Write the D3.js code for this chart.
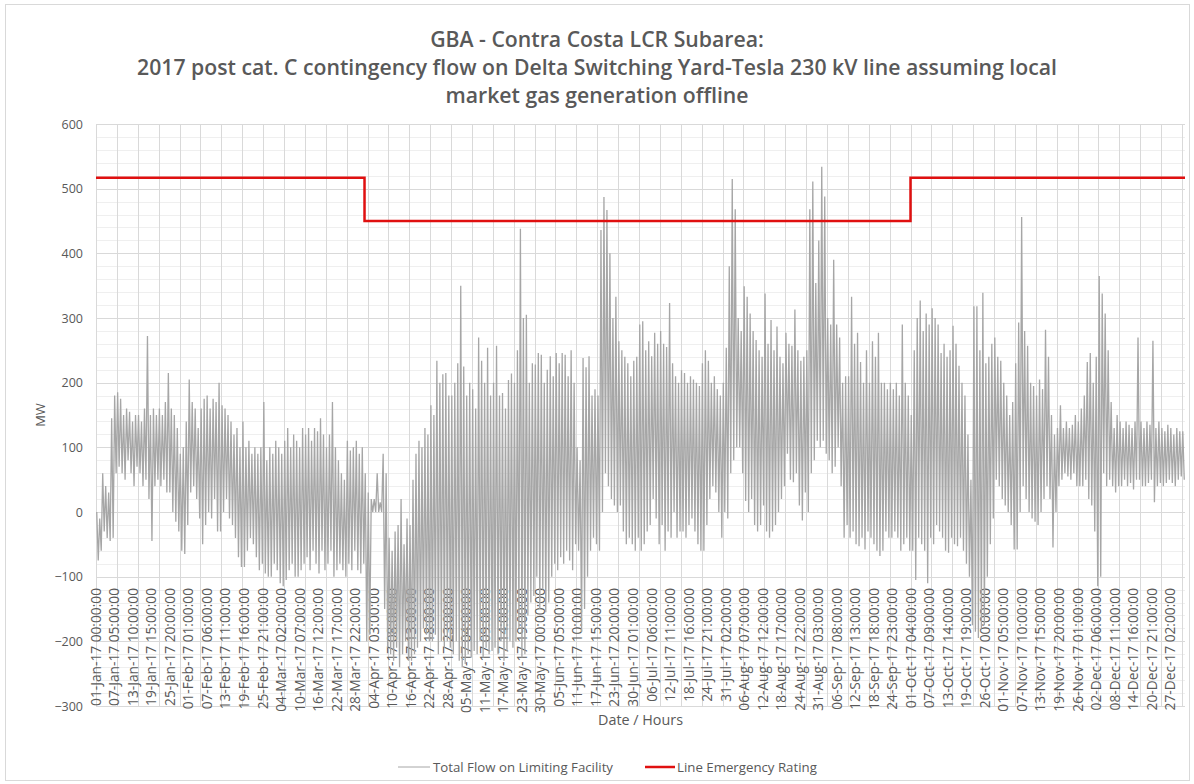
<!DOCTYPE html>
<html><head><meta charset="utf-8">
<script src="https://cdn.jsdelivr.net/npm/d3@7"></script>
<style>
html,body{margin:0;padding:0;background:#fff;}
text{font-family:"Open Sans","Liberation Sans",sans-serif;fill:#595959;}
</style></head>
<body><svg id="chart" width="1194" height="784"></svg>
<script>
// ---- DATA ----
const titleLines = [
  "GBA - Contra Costa LCR Subarea:",
  "2017 post cat. C contingency flow on Delta Switching Yard-Tesla 230 kV line assuming local",
  "market gas generation offline"
];
const seriesNames = ["Total Flow on Limiting Facility", "Line Emergency Rating"];
// daily high / low of hourly flow (MW), one row per week
const dailyHigh = [
  0,-10,60,40,30,145,180,
  185,175,150,160,155,140,150,
  150,140,160,272,150,160,150,
  160,150,170,215,160,150,130,
  90,100,140,205,170,160,130,
  160,175,180,160,175,170,200,
  165,160,150,140,120,130,100,
  140,100,110,90,100,90,100,
  170,80,100,90,110,100,90,
  110,130,100,120,110,100,130,
  120,130,110,130,125,145,120,
  100,120,170,100,80,60,50,
  110,95,100,110,90,100,60,
  30,20,20,60,15,90,60,
  -40,-60,-30,-20,20,-50,-10,
  -20,50,90,110,100,130,120,
  165,150,234,200,213,215,180,
  180,200,230,350,225,180,200,
  190,160,270,234,200,254,180,
  200,257,180,184,160,204,214,
  200,250,438,300,305,200,230,
  228,246,243,200,220,241,210,
  246,230,246,243,210,250,200,
  100,80,238,224,241,180,190,
  180,436,487,467,400,300,333,
  264,250,240,230,210,234,240,
  290,295,250,264,241,277,260,
  280,260,255,323,230,210,200,
  219,215,200,210,205,200,195,
  230,250,234,200,210,190,180,
  200,254,380,515,468,300,280,
  349,333,307,280,266,250,240,
  338,260,297,250,287,240,230,
  277,260,257,313,250,234,240,
  250,468,511,354,420,534,488,
  300,290,390,290,270,200,210,
  210,333,260,277,232,200,250,
  200,264,240,277,200,200,190,
  200,190,200,180,290,200,180,
  150,250,300,327,280,307,290,
  315,300,290,246,260,240,250,
  288,260,226,200,180,120,50,
  318,318,250,339,230,240,260,
  270,240,234,200,180,150,170,
  230,293,456,280,257,200,195,
  180,205,190,282,240,150,120,
  130,165,130,140,130,135,150,
  140,160,180,232,246,200,240,
  365,338,307,250,170,130,150,
  140,130,140,135,130,140,270,
  140,130,140,135,265,130,140,
  130,125,135,130,120,130,125,
  125
];
const dailyLow = [
  -75,-60,-30,-40,-45,-40,60,
  70,60,50,80,60,40,70,
  60,40,50,20,-45,40,50,
  40,50,30,30,0,-15,-30,
  -60,-65,-20,30,40,20,-10,
  -50,-20,0,-10,20,-30,-30,
  0,20,-10,-20,-40,-70,-85,
  -85,-60,-40,-50,-70,-90,-80,
  -95,-100,-100,-80,-90,-110,-115,
  -105,-90,-80,-100,-100,-90,-80,
  -70,-90,-60,-80,-95,-60,-90,
  -80,-60,-100,-90,-80,-90,-100,
  -80,-90,-60,-90,-95,-80,-200,
  -190,0,0,0,0,-150,-210,
  -220,-230,-210,-240,-220,-200,-230,
  -230,-220,-210,-200,-180,-190,-200,
  -200,-190,-220,-200,-210,-200,-210,
  -220,-200,-230,-240,-235,-220,-225,
  -215,-220,-200,-225,-210,-220,-215,
  -210,-220,-200,-230,-215,-200,-210,
  -200,-180,-225,-220,-160,-140,-130,
  -100,-150,-120,-155,-140,-100,-80,
  -90,-70,-80,-60,-75,-90,-50,
  -60,-185,-150,-100,-60,-40,-50,
  -60,0,60,40,20,10,0,
  10,-30,-50,-40,-50,-60,-40,
  -60,-50,-30,-20,20,-10,-50,
  -20,-60,-30,-40,0,-40,-30,
  -30,-40,-20,-10,-30,-50,-60,
  -60,-20,20,40,30,0,-40,
  0,-10,60,80,100,100,60,
  17,0,20,-20,-30,-20,10,
  -30,-40,-30,-20,0,20,40,
  90,50,46,60,10,-13,30,
  0,60,80,110,100,110,90,
  80,60,70,100,40,-40,-20,
  -40,-30,-50,-53,-40,-58,-30,
  -40,-50,-60,-68,-60,-30,-40,
  -40,-30,-40,-60,-50,-40,-60,
  -60,-105,-40,-50,-60,-110,-40,
  -50,-20,-30,-40,-60,-63,-40,
  -50,-53,-40,-60,-80,-100,-175,
  -185,-195,-180,-175,-100,-50,-10,
  50,40,20,10,0,-20,-58,
  -58,0,40,20,0,-10,-15,
  -20,0,20,40,20,-55,0,
  40,50,60,55,50,60,40,
  40,40,50,20,10,-30,-115,
  -100,60,40,50,40,30,40,
  40,50,40,45,35,50,50,
  40,40,45,50,15,40,45,
  40,45,50,45,40,50,55,
  50
];
// emergency rating steps: hour of year where each rating starts
const ratingStartHour = [0, 2160, 6552];
const ratingValue = [517, 450, 517];
const totalHours = 8760;
// y-axis ticks
const yTicks = [600, 500, 400, 300, 200, 100, 0, -100, -200, -300];
// x-axis category labels (every 149 hours)
const xLabels = [
 "01-Jan-17 00:00:00","07-Jan-17 05:00:00","13-Jan-17 10:00:00","19-Jan-17 15:00:00","25-Jan-17 20:00:00",
 "01-Feb-17 01:00:00","07-Feb-17 06:00:00","13-Feb-17 11:00:00","19-Feb-17 16:00:00","25-Feb-17 21:00:00",
 "04-Mar-17 02:00:00","10-Mar-17 07:00:00","16-Mar-17 12:00:00","22-Mar-17 17:00:00","28-Mar-17 22:00:00",
 "04-Apr-17 03:00:00","10-Apr-17 08:00:00","16-Apr-17 13:00:00","22-Apr-17 18:00:00","28-Apr-17 23:00:00",
 "05-May-17 04:00:00","11-May-17 09:00:00","17-May-17 14:00:00","23-May-17 19:00:00","30-May-17 00:00:00",
 "05-Jun-17 05:00:00","11-Jun-17 10:00:00","17-Jun-17 15:00:00","23-Jun-17 20:00:00","30-Jun-17 01:00:00",
 "06-Jul-17 06:00:00","12-Jul-17 11:00:00","18-Jul-17 16:00:00","24-Jul-17 21:00:00","31-Jul-17 02:00:00",
 "06-Aug-17 07:00:00","12-Aug-17 12:00:00","18-Aug-17 17:00:00","24-Aug-17 22:00:00","31-Aug-17 03:00:00",
 "06-Sep-17 08:00:00","12-Sep-17 13:00:00","18-Sep-17 18:00:00","24-Sep-17 23:00:00","01-Oct-17 04:00:00",
 "07-Oct-17 09:00:00","13-Oct-17 14:00:00","19-Oct-17 19:00:00","26-Oct-17 00:00:00","01-Nov-17 05:00:00",
 "07-Nov-17 10:00:00","13-Nov-17 15:00:00","19-Nov-17 20:00:00","26-Nov-17 01:00:00","02-Dec-17 06:00:00",
 "08-Dec-17 11:00:00","14-Dec-17 16:00:00","20-Dec-17 21:00:00","27-Dec-17 02:00:00"
];
const labelStepHours = 149;
const gridStepHours = 168;

// ---- LAYOUT ----
const svg = d3.select("#chart");
const L = 96, R = 1185, T = 124, B = 706;
const x = d3.scaleLinear().domain([0, totalHours]).range([L, R]);
const y = d3.scaleLinear().domain([-300, 600]).range([B, T]);

function fit(sel, target){
  const n = sel.node(); const fs = parseFloat(sel.style("font-size"));
  const w = n.getComputedTextLength();
  sel.style("font-size", (fs*target/w).toFixed(2)+"px");
}

// chart border
svg.append("rect").attr("x",5.5).attr("y",4.5).attr("width",1184).attr("height",776)
  .attr("fill","#fff").attr("stroke","#d9d9d9");

// minor horizontal gridlines
const g = svg.append("g");
g.selectAll("line.minor").data(d3.range(-300, 601, 20).filter(v => v % 100 !== 0))
  .join("line").attr("x1",L).attr("x2",R).attr("y1",d=>Math.round(y(d))+0.5).attr("y2",d=>Math.round(y(d))+0.5)
  .attr("stroke","#efefef").attr("stroke-width",1);
// major horizontal gridlines
g.selectAll("line.major").data(yTicks).join("line")
  .attr("x1",L).attr("x2",R).attr("y1",d=>Math.round(y(d))+0.5).attr("y2",d=>Math.round(y(d))+0.5)
  .attr("stroke","#d9d9d9").attr("stroke-width",1);
// vertical gridlines (weekly)
svg.append("g").selectAll("line").data(d3.range(0, totalHours+1, gridStepHours)).join("line")
  .attr("x1",d=>Math.round(x(d))+0.5).attr("x2",d=>Math.round(x(d))+0.5).attr("y1",T).attr("y2",B)
  .attr("stroke","#d9d9d9").attr("stroke-width",1);

// y axis labels
const yAxis = d3.axisLeft(y).tickValues(yTicks).tickSize(0).tickPadding(0).tickFormat(d3.format("d"));
const ya = svg.append("g").attr("transform",`translate(83,0)`).call(yAxis);
ya.select(".domain").remove();
ya.selectAll("text").style("font-size","12.5px").style("fill","#595959")
  .style("font-family",'"Open Sans","Liberation Sans",sans-serif');

// x labels (category axis, rotated)
const xl = svg.append("g");
const labs = xl.selectAll("text").data(xLabels).join("text")
  .attr("transform",(d,i)=>`translate(${x(i*labelStepHours)},588) rotate(-90)`)
  .attr("text-anchor","end").attr("dy","0.35em")
  .style("font-size","11px").text(d=>d);
{
  const w = labs.node().getComputedTextLength();
  labs.style("font-size", (11*118/w).toFixed(2)+"px");
}

// data series
const pts = [];
dailyHigh.forEach((v,i)=>{ pts.push([i*24+6, v]); pts.push([i*24+18, dailyLow[i]]); });
const line = d3.line().x(d=>x(d[0])).y(d=>y(d[1]));
svg.append("path").datum(pts).attr("d",line).attr("fill","none")
  .attr("stroke","#a6a6a6").attr("stroke-width",1.3).attr("stroke-linejoin","bevel");

// rating step line
const rpts = ratingStartHour.map((h,i)=>[h, ratingValue[i]]);
rpts.push([totalHours, ratingValue[ratingValue.length-1]]);
svg.append("path").datum(rpts).attr("d", d3.line().curve(d3.curveStepAfter).x(d=>x(d[0])).y(d=>y(d[1])))
  .attr("fill","none").attr("stroke","#e01010").attr("stroke-width",2.5);

// title
const ty = [40, 68, 96];
const titleSel = titleLines.map((t,i)=> svg.append("text").attr("x",597).attr("y",ty[i])
    .attr("text-anchor","middle").attr("dy","0.35em")
    .style("font-size","17px").style("font-weight","600").style("fill","#595959").text(t));
fit(titleSel[1], 920);
titleSel.forEach(s => s.style("font-size", titleSel[1].style("font-size")));

// axis titles
const xt = svg.append("text").attr("x",(L+R)/2).attr("y",720).attr("dy","0.35em").attr("text-anchor","middle")
  .style("font-size","13px").text("Date / Hours");
fit(xt, 85);
svg.append("text").attr("transform",`translate(40,${(T+B)/2}) rotate(-90)`).attr("dy","0.35em")
  .attr("text-anchor","middle").style("font-size","13px").text("MW");

// legend
const ly = 767;
svg.append("line").attr("x1",398).attr("x2",430).attr("y1",ly).attr("y2",ly).attr("stroke","#a6a6a6").attr("stroke-width",1);
const l1 = svg.append("text").attr("x",433).attr("y",ly).attr("dy","0.35em").style("font-size","12px").text(seriesNames[0]);
fit(l1, 180);
svg.append("line").attr("x1",645).attr("x2",675).attr("y1",ly).attr("y2",ly).attr("stroke","#e01010").attr("stroke-width",2.5);
const l2 = svg.append("text").attr("x",677).attr("y",ly).attr("dy","0.35em").style("font-size","12px").text(seriesNames[1]);
fit(l2, 140);
</script></body></html>
